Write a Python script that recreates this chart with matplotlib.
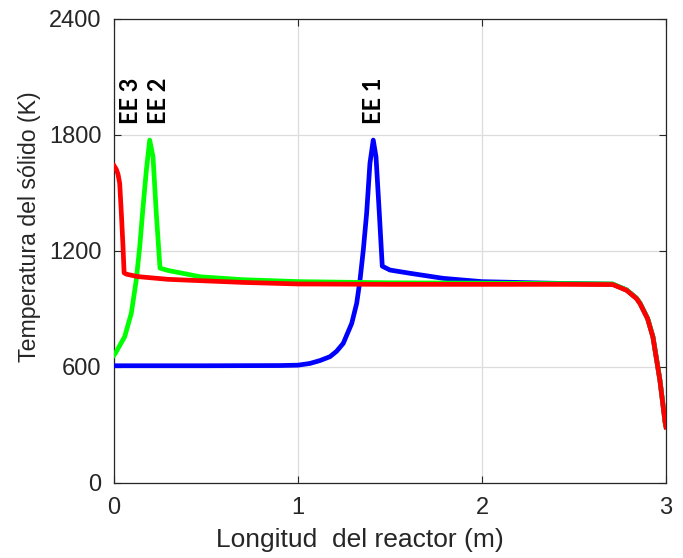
import numpy as np
import matplotlib
matplotlib.use("Agg")
import matplotlib.pyplot as plt

# --- datos ---
x_ee1 = [0.0, 0.5, 0.9, 1.0, 1.065, 1.12, 1.174, 1.21, 1.246, 1.292, 1.319, 1.337,
         1.355, 1.373, 1.391, 1.409, 1.424, 1.442, 1.458, 1.5, 1.61, 1.79, 2.0,
         2.42, 2.71, 2.786, 2.84, 2.859, 2.9, 2.929, 2.967, 2.995, 3.0]
T_ee1 = [605, 605, 606, 608, 617, 632, 652, 680, 721, 824, 928, 1048,
         1204, 1393, 1652, 1772, 1686, 1393, 1120, 1100, 1083, 1057, 1040,
         1031, 1027, 997, 954, 928, 850, 755, 531, 315, 290]

x_ee2 = [0.0, 0.007, 0.058, 0.094, 0.121, 0.14, 0.158, 0.176, 0.194, 0.212, 0.23,
         0.25, 0.293, 0.47, 0.7, 1.01, 1.5, 2.0, 2.42, 2.71, 2.786, 2.84, 2.859,
         2.9, 2.929, 2.967, 2.995, 3.0]
T_ee2 = [660, 669, 755, 876, 1048, 1221, 1427, 1617, 1772, 1686, 1393,
         1110, 1098, 1065, 1050, 1040, 1034, 1032, 1030, 1028, 997, 954, 928,
         850, 755, 531, 315, 290]

x_ee3 = [0.0, 0.0125, 0.022, 0.031, 0.04, 0.049, 0.055, 0.07, 0.13, 0.293, 0.47,
         0.7, 1.0, 1.5, 2.0, 2.42, 2.71, 2.786, 2.84, 2.859, 2.9, 2.929, 2.967,
         2.995, 3.0]
T_ee3 = [1640, 1621, 1595, 1548, 1393, 1221, 1085, 1078, 1066, 1052, 1045,
         1036, 1028, 1026, 1026, 1026, 1025, 995, 952, 926, 848, 753, 529,
         313, 288]

etiquetas = ["EE 3", "EE 2", "EE 1"]
x_etiq = [0.092, 0.24, 1.412]

xticks = [0, 1, 2, 3]
yticks = [0, 600, 1200, 1800, 2400]

# --- grafica ---
plt.rcParams['font.family'] = ['Liberation Sans', 'DejaVu Sans']
fig = plt.figure(figsize=(6.83, 5.58), dpi=100)
ax = fig.add_axes([0.1669, 0.1349, 0.8082, 0.8316])

ax.plot(x_ee1, T_ee1, color=(0, 0, 1), lw=3.4, solid_joinstyle='round', zorder=3)
ax.plot(x_ee2, T_ee2, color=(0, 1, 0), lw=3.4, solid_joinstyle='round', zorder=4)
ax.plot(x_ee3, T_ee3, color=(1, 0, 0), lw=3.4, solid_joinstyle='round', zorder=5)

for txt, xe in zip(etiquetas, x_etiq):
    ax.text(xe, 1855, txt, rotation=90, ha='center', va='bottom',
            fontsize=17, fontweight='bold', family=['Lato', 'DejaVu Sans'],
            color='black')

ax.set_xlim(0, 3)
ax.set_ylim(0, 2400)
ax.set_xticks(xticks)
ax.set_yticks(yticks)
ax.tick_params(direction='in', top=True, right=True, length=5, width=0.8,
               labelsize=17, labelcolor='#262626', color='#262626')
ax.tick_params(axis='x', pad=10)
ax.tick_params(axis='y', pad=9)
ax.grid(True, color='#dcdcdc', lw=0.9)
ax.set_axisbelow(True)
for s in ax.spines.values():
    s.set_color('#262626')
    s.set_linewidth(0.9)

ax.set_xlabel("Longitud  del reactor (m)", fontsize=19, color='#262626')
ax.set_ylabel("Temperatura del sólido (K)", fontsize=16.7, color='#262626')
ax.xaxis.set_label_coords(0.445, -0.098)
ax.yaxis.set_label_coords(-0.133, 0.552)

fig.savefig("out.png", dpi=100)
